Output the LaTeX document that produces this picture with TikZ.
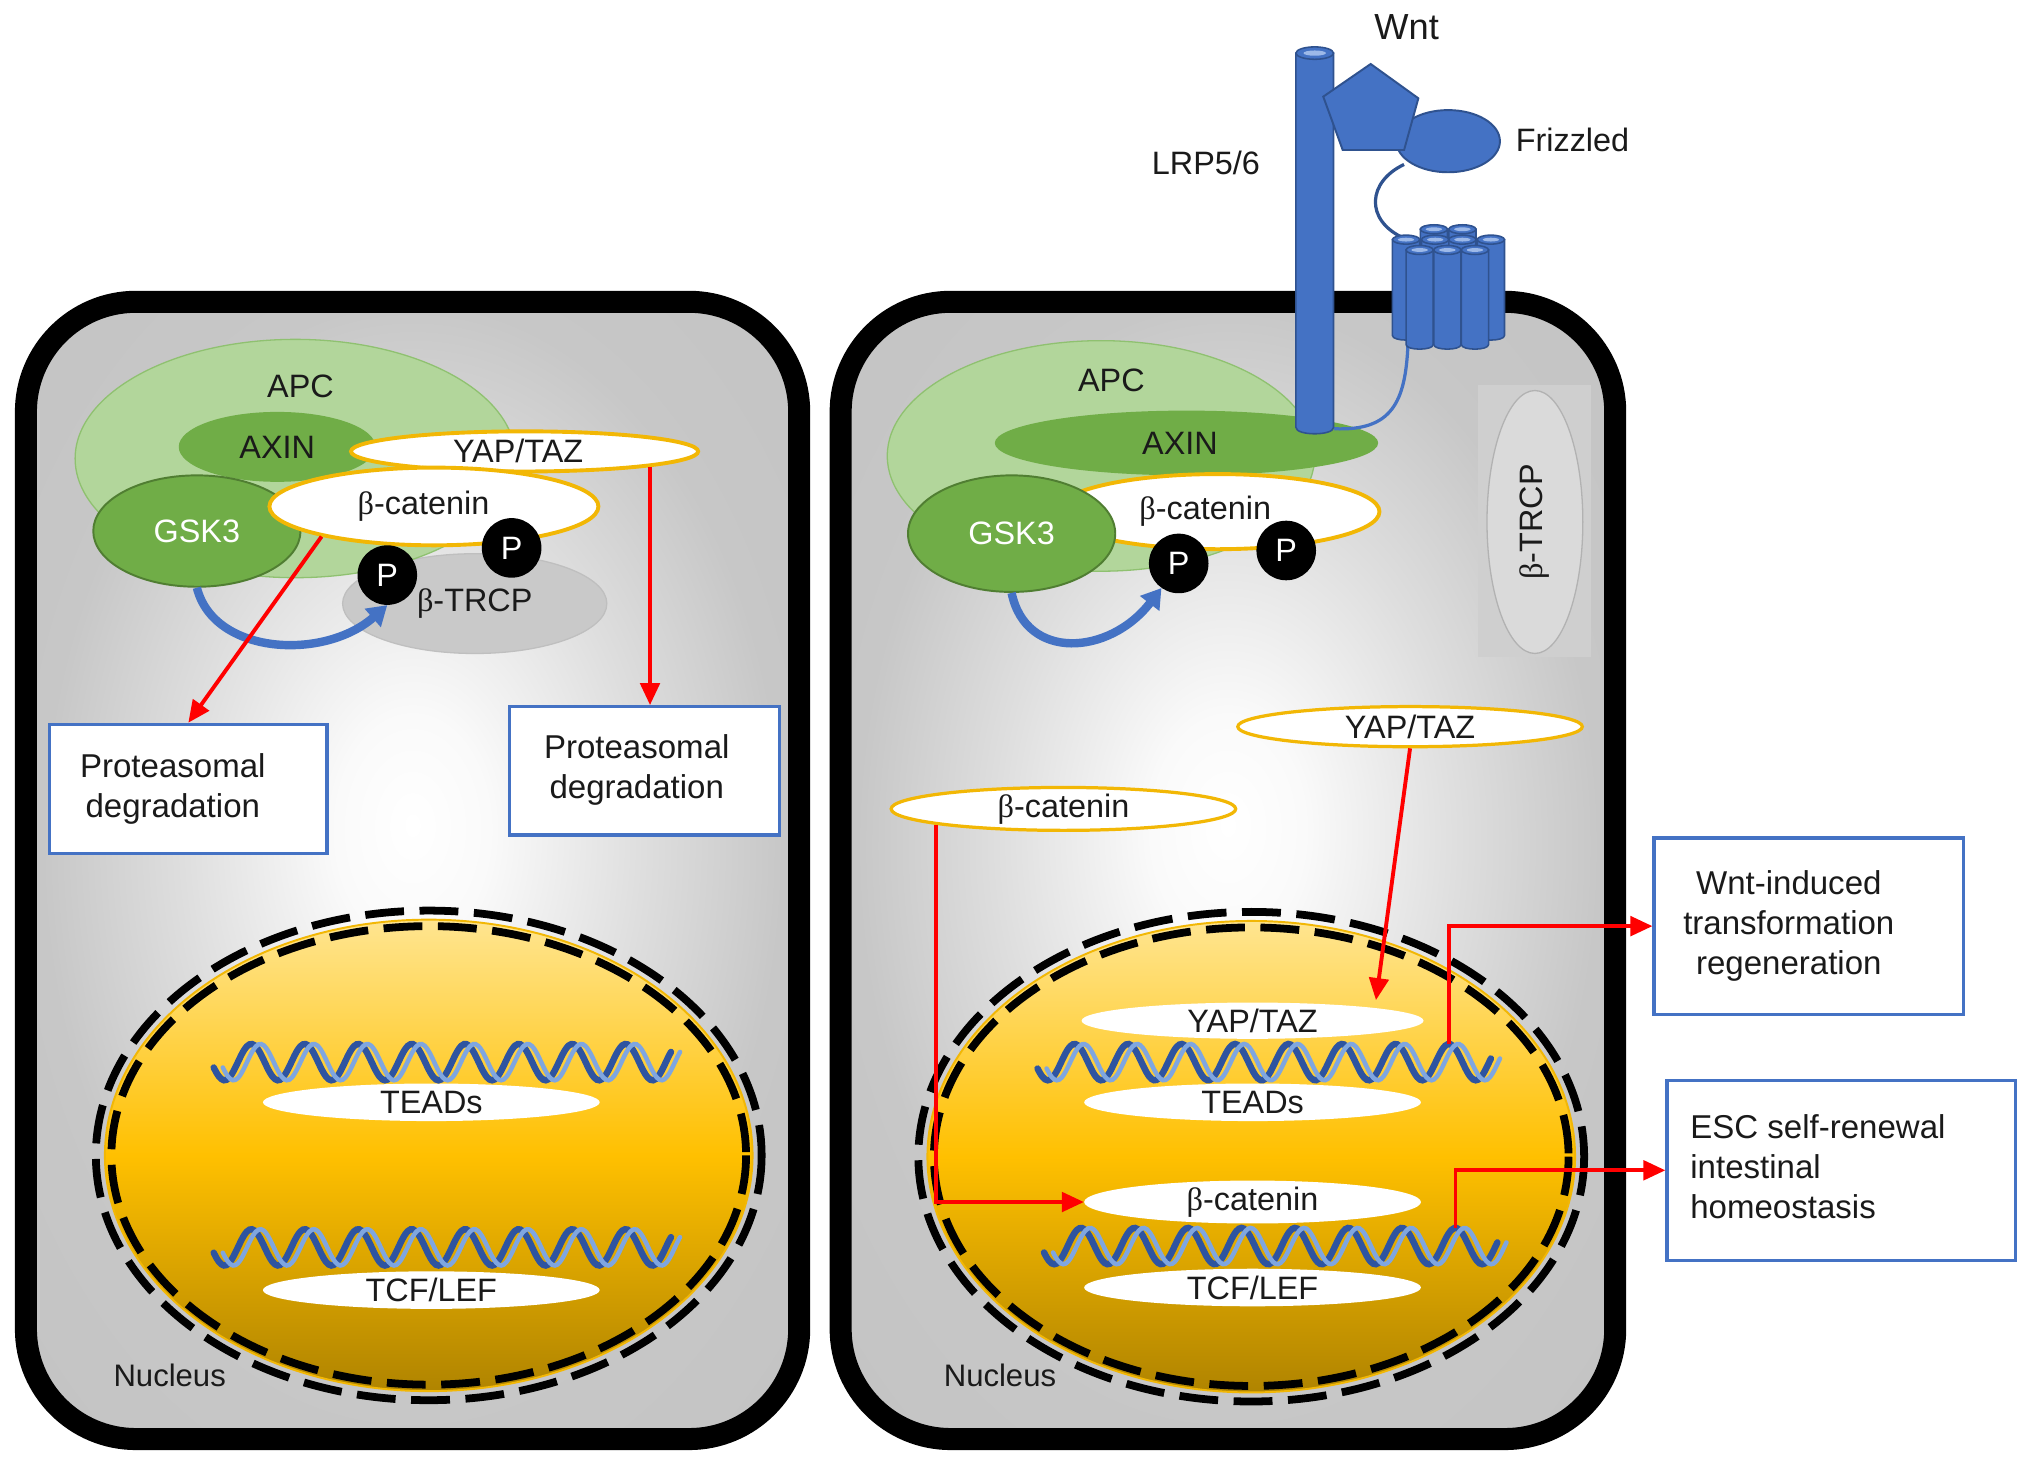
\documentclass[tikz,border=0pt]{standalone}
\usepackage{fontspec}
\setmainfont{Liberation Sans}
\newfontfamily\betafont{Liberation Serif}
\usetikzlibrary{shapes.geometric, arrows.meta, calc}
\newcommand{\bt}{{\betafont β}}
\definecolor{cellgray}{HTML}{BCBCBC}
\definecolor{apcgreen}{HTML}{B2D69B}
\definecolor{apcborder}{HTML}{8FC170}
\definecolor{darkgreen}{HTML}{70AD47}
\definecolor{gskborder}{HTML}{507E32}
\definecolor{goldline}{HTML}{F2B705}
\definecolor{trcpgray}{HTML}{C9C9C9}
\definecolor{trcplight}{HTML}{DADADA}
\definecolor{trcpbox}{HTML}{CFCFCF}
\definecolor{bluemain}{HTML}{4472C4}
\definecolor{blueline}{HTML}{2F528F}
\definecolor{bluelight}{HTML}{9DB9E8}
\definecolor{dnadark}{HTML}{2E54A0}
\definecolor{dnalight}{HTML}{7FA6E0}
\definecolor{nucTop}{HTML}{FFE590}
\definecolor{nucMid}{HTML}{FFC000}
\definecolor{nucBot}{HTML}{B08400}
\definecolor{txt}{HTML}{1A1A1A}
\pgfdeclareradialshading{cellshade}{\pgfpoint{0bp}{2bp}}{color(0bp)=(white); color(5bp)=(white!98!black); color(15bp)=(white!87!black); color(24bp)=(white!78!black); color(50bp)=(white!75!black)}
\newcommand{\tmcyl}[4]{%
  \filldraw[fill=bluemain, draw=blueline, line width=1.2pt]
    ({#1-#4},#2) -- ({#1-#4},#3) .. controls ({#1-#4},{#3+0.45*#4}) and ({#1+#4},{#3+0.45*#4}) .. ({#1+#4},#3) -- ({#1+#4},#2) -- cycle;
  \filldraw[fill=bluemain, draw=blueline, line width=1.2pt] (#1,#2) ellipse [x radius=#4, y radius={0.33*#4}];
  \fill[bluelight] (#1,#2) ellipse [x radius={0.6*#4}, y radius={0.14*#4}];
}
\newcommand{\dnahelix}[4]{%
  \draw[dnadark, line width=5pt, line cap=round] plot[domain=#1:#2, samples=180, smooth] (\x, {#3-14*cos(((\x-#4)/41.3)*360)});
  \draw[dnalight, line width=3.5pt, line cap=round] plot[domain=#1:#2, samples=180, smooth] ({\x+7}, {#3-14*cos(((\x-#4)/41.3)*360)});
}
\begin{document}
\begin{tikzpicture}[x=1pt, y=-1pt,
  lbl/.style={font=\fontsize{25}{31}\selectfont, inner sep=0pt, text=txt},
  ell/.style={ellipse, inner sep=0pt, font=\fontsize{25}{31}\selectfont, text=txt},
  whiteell/.style={ell, fill=white, draw=goldline, line width=3pt},
  nucell/.style={ell, fill=white, minimum width=260pt, minimum height=29pt},
  greenell/.style={ell, fill=darkgreen},
  pcirc/.style={circle, fill=black, text=white, minimum size=46pt, inner sep=0pt, font=\fontsize{25}{31}\selectfont},
  outbox/.style={rectangle, draw=bluemain, line width=2.5pt, fill=white, inner sep=0pt, align=center, text=txt, font=\fontsize{25.5}{31}\selectfont},
  redarr/.style={draw=red, line width=3pt, -{Triangle[length=17pt,width=15pt]}},
  bluearr/.style={draw=bluemain, line width=6.5pt, -{Triangle[length=15pt,width=18pt]}},
  cellbox/.style={draw=black, line width=17pt, rounded corners=85pt, shade, shading=cellshade},
  ring/.style={draw=black, line width=6pt, dash pattern=on 30pt off 12pt},
  nucfill/.style={top color=nucTop, bottom color=nucBot, middle color=nucMid},
]
\fill[white] (0,0) rectangle (1568,1131);
\useasboundingbox (0,0) rectangle (1568,1131);

% cells
\path[cellbox] (20,233) rectangle (617,1111);
\path[cellbox] (649,233) rectangle (1247,1111);

% ---------- left cell cytoplasm ----------
\node[ell, fill=trcpgray, draw=black!25, line width=1pt, minimum width=204pt, minimum height=77pt] (trcpL) at (366.5,466) {\bt-TRCP};
\node[ell, fill=apcgreen, draw=apcborder, line width=1pt, minimum width=340pt, minimum height=184pt] (apcL) at (228,354) {};
\node[lbl] (apcLt) at (232,298) {APC};
\node[greenell, minimum width=152pt, minimum height=54pt] (axinL) at (214,345) {AXIN};
\node[whiteell, minimum width=268pt, minimum height=31pt] (yapL) at (405,348.5) {YAP/TAZ\hspace*{10pt}};
\node[greenell, draw=gskborder, line width=1.5pt, text=white, minimum width=160pt, minimum height=86pt] (gskL) at (152,410) {GSK3};
\node[whiteell, minimum width=254pt, minimum height=60pt] (bcL) at (335,391) {\bt-catenin\hspace*{16pt}};
\node[pcirc] (pL1) at (299,444) {P};
\node[pcirc] (pL2) at (395,423) {P};
\draw[bluearr] (gskL.south) .. controls +(13,52) and +(-49,43) .. (pL1.south);

\node[outbox, minimum width=214pt, minimum height=100pt] (box1) at (145.4,609.2) {\begin{tabular}{@{}c@{}}Proteasomal\\degradation\end{tabular}\hspace*{24pt}};
\node[outbox, minimum width=208pt, minimum height=99pt] (box2) at (497.6,595.1) {\begin{tabular}{@{}c@{}}Proteasomal\\degradation\end{tabular}\hspace*{12pt}};
\draw[redarr] (bcL.195) -- (box1.north);
\draw[redarr] (yapL.-7) -- (yapL.-7 |- box2.north);

% ---------- left nucleus ----------
\path[nucfill] (331,892) ellipse [x radius=250, y radius=182];
\draw[goldline, line width=1.5pt] (331,892) ellipse [x radius=250, y radius=182];
\draw[ring] (331,892) ellipse [x radius=245, y radius=177];
\draw[ring] (331,892) ellipse [x radius=257, y radius=189];
\node[nucell] (teadL) at (333,851) {TEADs};
\node[nucell] (tcfL) at (333,996) {TCF/LEF};
\dnahelix{165}{518}{820}{194}
\dnahelix{165}{518}{963}{194}
\node[lbl, font=\fontsize{24}{28}\selectfont] (nucLt) at (131,1062) {Nucleus};

% ---------- right cell cytoplasm ----------
\node[ell, fill=apcgreen, draw=apcborder, line width=1pt, minimum width=330pt, minimum height=178pt] (apcR) at (850,352) {};
\node[lbl] (apcRt) at (858,294) {APC};
\node[greenell, minimum width=296pt, minimum height=50pt] (axinR) at (916,342) {AXIN\hspace*{10pt}};
\node[whiteell, minimum width=250pt, minimum height=58pt] (bcR) at (940,395) {\bt-catenin\hspace*{19pt}};
\node[greenell, draw=gskborder, line width=1.5pt, text=white, minimum width=160pt, minimum height=90pt] (gskR) at (781,412) {GSK3};
\node[pcirc] (pR1) at (910,435) {P};
\node[pcirc] (pR2) at (993,425) {P};
\draw[bluearr] (gskR.south) .. controls +(11,53) and +(-40,52) .. (pR1.235);

\fill[trcpbox] (1141,297) rectangle (1228,507);
\node[ell, fill=trcplight, draw=black!30, line width=1pt, rotate=90, minimum width=203pt, minimum height=74pt] (trcpR) at (1185,403) {\bt-TRCP};

\node[whiteell, line width=2.5pt, minimum width=266pt, minimum height=31pt] (yapC) at (1088.6,561) {YAP/TAZ};
\node[whiteell, line width=2.5pt, minimum width=266pt, minimum height=32pt] (bcC) at (821,624.5) {\bt-catenin};

% ---------- right nucleus ----------
\path[nucfill] (966,893) ellipse [x radius=250, y radius=182];
\draw[goldline, line width=1.5pt] (966,893) ellipse [x radius=250, y radius=182];
\draw[ring] (966,893) ellipse [x radius=245, y radius=177];
\draw[ring] (966,893) ellipse [x radius=257, y radius=189];
\node[nucell, minimum width=264pt, minimum height=28pt] (yapN) at (967,788) {YAP/TAZ};
\node[nucell] (teadR) at (967,851) {TEADs};
\node[nucell] (bcN) at (967,928) {\bt-catenin};
\node[nucell] (tcfR) at (967,994) {TCF/LEF};
\dnahelix{801}{1151}{820}{829.6}
\dnahelix{806}{1156}{962}{834.6}
\coordinate (dnaTop1) at (1118.7,806);
\coordinate (dnaTop2) at (1123.7,948);
\node[lbl, font=\fontsize{24}{28}\selectfont] (nucRt) at (772,1062) {Nucleus};

% output boxes
\node[outbox, minimum width=239pt, minimum height=136pt] (boxW) at (1396.5,715) {\begin{tabular}{@{}c@{}}Wnt-induced\\transformation\\regeneration\end{tabular}\hspace*{31pt}};
\node[outbox, minimum width=269pt, minimum height=139pt] (boxE) at (1421.5,903.5) {\begin{tabular}{@{}l@{}}ESC self-renewal\\intestinal\\homeostasis\end{tabular}\hspace*{36pt}};

% red arrows right
\draw[redarr, shorten >=6pt] (yapC.south) -- (yapN.6);
\draw[redarr] (bcC.187) |- (bcN.west);
\draw[redarr] (dnaTop1) |- (boxW.west);
\draw[redarr] (dnaTop2) |- (boxE.west);

% ---------- receptors ----------
\draw[bluemain, line width=2.5pt] (1087,266) .. controls (1085,310) and (1075,333) .. (1030,331);
\tmcyl{1015}{41}{330}{14.5}
\draw[blueline, line width=2.5pt] (1084,127) .. controls (1056,140) and (1053,170) .. (1084,184);
\tmcyl{1107}{177}{250}{10.5}
\tmcyl{1129}{177}{250}{10.5}
\tmcyl{1085.5}{185}{259}{10.5}
\tmcyl{1108}{185}{259}{10.5}
\tmcyl{1129}{185}{259}{10.5}
\tmcyl{1151}{185}{259}{10.5}
\tmcyl{1096}{193}{266}{10.5}
\tmcyl{1117.4}{193}{266}{10.5}
\tmcyl{1138.7}{193}{266}{10.5}
\filldraw[fill=bluemain, draw=blueline, line width=1.5pt] (1118,109) ellipse [x radius=40, y radius=24];
\filldraw[fill=bluemain, draw=blueline, line width=1.5pt] (1058.2,49.4) -- (1095,75.9) -- (1084,115.8) -- (1036.6,115.8) -- (1021.6,74.6) -- cycle;
\node[lbl, font=\fontsize{28}{32}\selectfont] (wntT) at (1086,21) {Wnt};
\node[lbl] (fzdT) at (1214,108) {Frizzled};
\node[lbl] (lrpT) at (931,126) {LRP5/6};
\end{tikzpicture}
\end{document}
